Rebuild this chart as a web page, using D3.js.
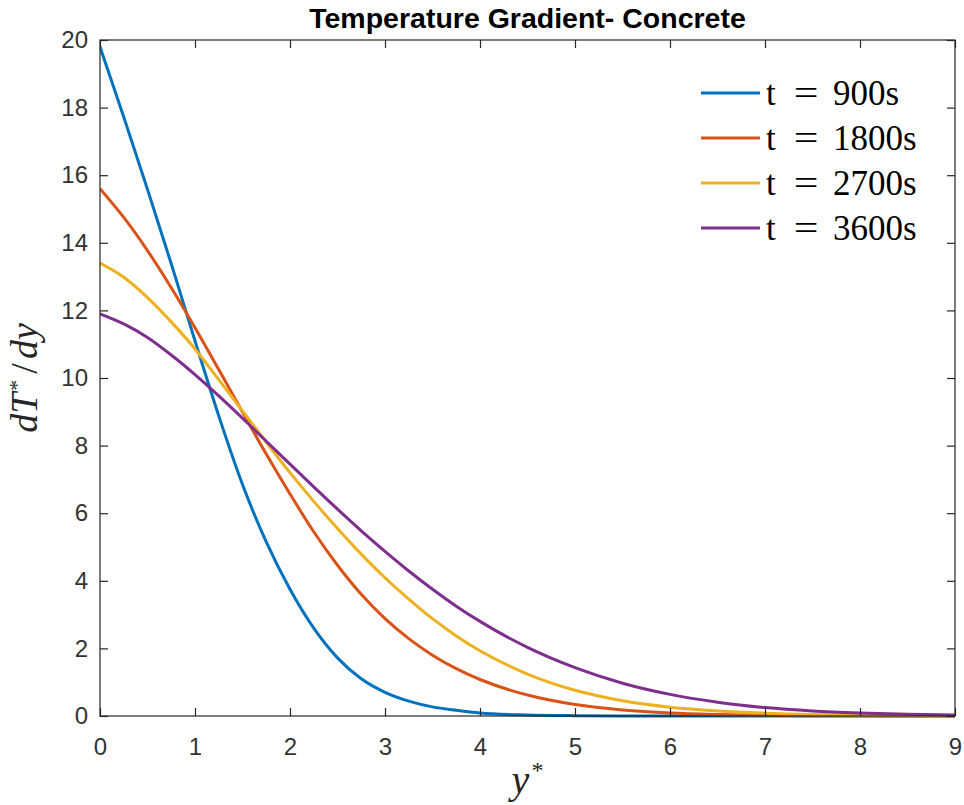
<!DOCTYPE html>
<html>
<head>
<meta charset="utf-8">
<script src="https://cdn.jsdelivr.net/npm/d3@7"></script>
<style>
  html, body { margin: 0; padding: 0; background: #fff; }
  svg { display: block; }
</style>
</head>
<body>
<svg id="chart" width="964" height="805"></svg>
<script>
// ---------------- data ----------------
const titleText = "Temperature Gradient- Concrete";
const yStar = [0, 0.25, 0.5, 0.75, 1, 1.25, 1.5, 1.75, 2, 2.25, 2.5, 2.75, 3, 3.25, 3.5, 3.75, 4, 4.5, 5, 5.5, 6, 6.5, 7, 7.5, 8, 8.5, 9];
const t900  = [19.8, 17.72, 15.58, 13.38, 11.1, 8.88, 6.85, 5.15, 3.75, 2.6, 1.72, 1.1, 0.7, 0.44, 0.27, 0.17, 0.09, 0.03, 0.01, 0.003, 0.001, 0, 0, 0, 0, 0, 0];
const t1800 = [15.6, 14.75, 13.77, 12.67, 11.49, 10.25, 8.99, 7.75, 6.57, 5.45, 4.46, 3.6, 2.88, 2.29, 1.8, 1.4, 1.08, 0.62, 0.34, 0.18, 0.09, 0.045, 0.02, 0.009, 0.004, 0.002, 0.001];
const t2700 = [13.4, 12.98, 12.38, 11.66, 10.86, 9.95, 9.03, 8.1, 7.2, 6.35, 5.55, 4.79, 4.09, 3.46, 2.88, 2.37, 1.93, 1.24, 0.76, 0.45, 0.26, 0.15, 0.085, 0.047, 0.025, 0.013, 0.007];
const t3600 = [11.9, 11.6, 11.2, 10.68, 10.1, 9.47, 8.81, 8.13, 7.45, 6.78, 6.12, 5.48, 4.87, 4.29, 3.75, 3.25, 2.8, 2.03, 1.43, 0.97, 0.64, 0.41, 0.25, 0.15, 0.09, 0.05, 0.03];
const seriesLabels = ["t = 900s", "t = 1800s", "t = 2700s", "t = 3600s"];
const seriesColors = ["#0072BD", "#D95319", "#EDB120", "#7E2F8E"];
const xTicks = [0, 1, 2, 3, 4, 5, 6, 7, 8, 9];
const yTicks = [0, 2, 4, 6, 8, 10, 12, 14, 16, 18, 20];

// ---------------- layout ----------------
const svg = d3.select("#chart");
const L = 100, R = 955, T = 40, B = 716;
const axisColor = "#262626";
const sansFont = "'Liberation Sans', Arial, Helvetica, sans-serif";
const serifFont = "'Liberation Serif', 'Times New Roman', serif";

const x = d3.scaleLinear().domain([0, 9]).range([L, R]);
const y = d3.scaleLinear().domain([0, 20]).range([B, T]);

const series = [t900, t1800, t2700, t3600].map((vals, i) => ({
  label: seriesLabels[i],
  color: seriesColors[i],
  points: yStar.map((xv, j) => ({ x: xv, y: vals[j] }))
}));

// clip
svg.append("defs").append("clipPath").attr("id", "plotClip")
  .append("rect").attr("x", L).attr("y", T - 2).attr("width", R - L + 2).attr("height", B - T + 4);

// lines
const line = d3.line().x(d => x(d.x)).y(d => y(d.y)).curve(d3.curveMonotoneX);
svg.append("g").attr("clip-path", "url(#plotClip)")
  .selectAll("path").data(series).join("path")
  .attr("d", d => line(d.points))
  .attr("fill", "none")
  .attr("stroke", d => d.color)
  .attr("stroke-width", 3)
  .attr("stroke-linejoin", "round");

// axes (ticks inward, box on)
const tickLen = 8;
const styleAxis = g => {
  g.select(".domain").remove();
  g.selectAll(".tick line").attr("stroke", axisColor).attr("stroke-width", 1.2);
  g.selectAll(".tick text").attr("fill", "#333").attr("font-family", sansFont).attr("font-size", 24);
};
svg.append("g").attr("transform", `translate(0,${B})`)
  .call(d3.axisBottom(x).tickValues(xTicks).tickFormat(d3.format("d")).tickSizeInner(-tickLen).tickSizeOuter(0).tickPadding(22))
  .call(styleAxis)
  .call(g => g.selectAll(".tick text").attr("dy", "0.71em"));
svg.append("g").attr("transform", `translate(0,${T})`)
  .call(d3.axisTop(x).tickValues(xTicks).tickFormat("").tickSizeInner(-tickLen).tickSizeOuter(0))
  .call(styleAxis);
svg.append("g").attr("transform", `translate(${L},0)`)
  .call(d3.axisLeft(y).tickValues(yTicks).tickFormat(d3.format("d")).tickSizeInner(-tickLen).tickSizeOuter(0).tickPadding(12))
  .call(styleAxis);
svg.append("g").attr("transform", `translate(${R},0)`)
  .call(d3.axisRight(y).tickValues(yTicks).tickFormat("").tickSizeInner(-tickLen).tickSizeOuter(0))
  .call(styleAxis);

// box
svg.append("rect").attr("x", L).attr("y", T).attr("width", R - L).attr("height", B - T)
  .attr("fill", "none").attr("stroke", axisColor).attr("stroke-width", 1.2);

// title
svg.append("text").attr("x", (L + R) / 2).attr("y", 28)
  .attr("text-anchor", "middle").attr("font-family", sansFont).attr("font-weight", "bold")
  .attr("font-size", 28.5).attr("fill", "#000").text(titleText);

// x label y*
const xl = svg.append("text").attr("x", (L + R) / 2).attr("y", 793)
  .attr("text-anchor", "middle").attr("font-family", serifFont).attr("font-size", 40).attr("fill", axisColor);
xl.append("tspan").attr("font-style", "italic").text("y");
xl.append("tspan").attr("font-size", 24).attr("dy", -15).attr("dx", 2).text("*");

// y label dT*/dy
const yl = svg.append("text").attr("transform", `translate(37,${(T + B) / 2}) rotate(-90)`)
  .attr("text-anchor", "middle").attr("font-family", serifFont).attr("font-size", 38).attr("fill", axisColor);
yl.append("tspan").attr("font-style", "italic").text("dT");
yl.append("tspan").attr("font-size", 22).attr("dy", -13).attr("dx", 2).text("*");
yl.append("tspan").attr("dy", 13).attr("dx", 6).text("/");
yl.append("tspan").attr("font-style", "italic").attr("dx", 4).text("dy");

// legend (no box)
const legX0 = 701, legX1 = 760, legY0 = 93, legStep = 45;
const leg = svg.append("g").selectAll("g").data(series).join("g")
  .attr("transform", (d, i) => `translate(0,${legY0 + i * legStep})`);
leg.append("line").attr("x1", legX0).attr("x2", legX1).attr("y1", 0).attr("y2", 0)
  .attr("stroke", d => d.color).attr("stroke-width", 3);
leg.each(function (d) {
  const parts = d.label.split(" = ");
  const g = d3.select(this);
  const common = t => t.attr("font-family", serifFont).attr("font-size", 35).attr("fill", "#000").attr("y", 12);
  common(g.append("text").attr("x", 766)).text(parts[0]);
  common(g.append("text").attr("x", 806).attr("text-anchor", "middle"))
    .attr("transform", "translate(806,0) scale(1.25,1) translate(-806,0)").text("=");
  common(g.append("text").attr("x", 833)).text(parts[1]);
});
</script>
</body>
</html>
